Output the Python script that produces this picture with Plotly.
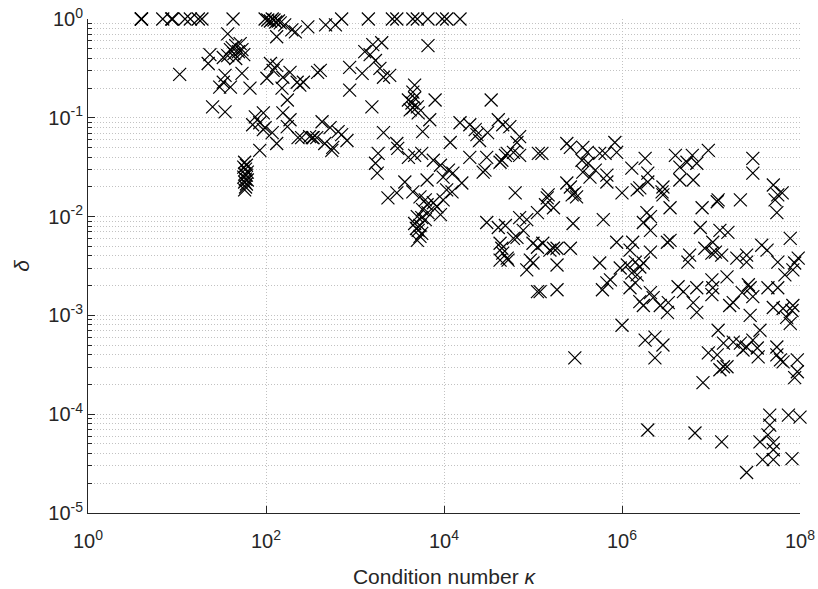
import plotly.graph_objects as go

# Each point is (log10 kappa, log10 delta).

# delta = 1 (saturated) results
saturated = [
    (0.60, 0), (0.60, 0), (0.60, 0), (0.84, 0), (0.94, 0), (0.95, 0), (1.09, 0),
    (1.15, 0), (1.24, 0), (1.28, 0), (1.63, 0),
    (2.85, 0), (3.15, 0), (3.42, 0), (3.47, 0), (3.65, 0), (3.70, 0), (3.82, 0),
    (3.98, 0), (4.03, 0), (4.18, 0),
]

# well-conditioned problems, kappa < ~10^2.8
low_kappa = [
    (1.99, 0), (2.02, -0.01), (2.05, -0.02), (2.07, 0), (2.09, -0.01), (2.11, -0.03),
    (2.14, -0.02), (2.16, -0.04),
    (2.21, -0.06), (2.29, -0.11), (2.33, -0.13), (2.47, -0.08), (2.67, -0.06),
    (2.78, -0.06), (2.12, -0.18), (1.57, -0.15),
    (1.62, -0.29), (1.66, -0.27), (1.71, -0.25), (1.69, -0.33), (1.64, -0.35),
    (1.60, -0.31), (1.73, -0.31), (1.66, -0.40), (1.57, -0.37), (1.75, -0.36),
    (1.37, -0.36), (1.35, -0.45), (1.52, -0.39), (1.03, -0.56),
    (1.54, -0.57), (1.52, -0.64), (1.48, -0.69), (1.60, -0.69), (1.73, -0.55),
    (1.82, -0.70), (1.40, -0.89), (1.54, -0.94), (2.05, -0.45), (2.12, -0.47),
    (2.01, -0.60), (2.08, -0.52), (2.27, -0.54), (2.19, -0.59), (2.35, -0.64),
    (2.38, -0.67), (2.18, -0.70), (2.24, -0.82), (2.58, -0.54),
    (1.88, -0.99), (1.97, -0.95), (1.85, -1.07), (1.93, -1.05), (1.97, -1.12),
    (2.07, -1.15), (2.12, -1.26), (2.19, -0.95), (2.27, -1.02), (2.24, -1.09),
    (2.36, -1.20), (2.52, -1.20), (2.57, -1.20), (1.93, -1.33), (1.99, -1.10),
    (1.76, -1.45), (1.78, -1.48), (1.75, -1.50), (1.77, -1.52), (1.79, -1.55),
    (1.76, -1.57), (1.78, -1.58), (1.75, -1.60), (1.77, -1.62), (1.79, -1.63),
    (1.76, -1.65), (1.78, -1.67), (1.77, -1.70), (1.76, -1.73),
]

# moderately conditioned problems, kappa ~ 10^2.4 .. 10^5
mid_kappa = [
    (3.30, -0.24), (3.20, -0.26), (3.11, -0.33), (3.17, -0.36), (3.23, -0.42),
    (2.94, -0.49), (3.08, -0.55), (3.28, -0.50), (3.39, -0.57), (3.32, -0.59),
    (2.61, -0.52), (2.42, -0.64), (2.94, -0.72), (3.19, -0.89), (3.82, -0.27),
    (3.67, -0.67), (3.65, -0.74), (3.67, -0.80), (3.64, -0.85), (3.62, -0.92),
    (3.70, -0.89), (3.65, -0.90), (3.71, -0.95), (3.90, -0.82), (3.84, -1.02),
    (3.76, -1.14), (3.60, -0.82), (4.53, -0.82),
    (2.63, -1.04), (2.72, -1.10), (2.81, -1.14), (2.53, -1.20), (2.66, -1.26),
    (2.75, -1.30), (2.74, -1.33), (2.91, -1.23), (2.85, -1.17), (2.40, -1.20),
    (2.49, -1.19),
    (3.32, -1.15), (3.47, -1.26), (3.48, -1.31), (3.26, -1.36), (3.23, -1.46),
    (3.25, -1.56), (3.60, -1.40), (3.67, -1.38), (3.75, -1.36), (4.07, -1.25),
    (3.88, -1.43), (3.96, -1.48), (4.05, -1.53), (4.10, -1.56), (3.99, -1.60),
    (4.20, -1.66), (4.09, -1.75), (3.81, -1.63), (3.56, -1.65), (3.37, -1.81),
    (3.47, -1.76), (3.65, -1.75), (3.73, -1.80),
    (3.79, -1.83), (3.81, -1.88), (3.76, -1.93), (3.82, -1.96), (3.75, -2.01),
    (3.79, -2.03), (3.73, -2.09), (3.71, -2.14), (3.75, -2.17), (3.70, -2.24),
    (3.88, -1.86), (3.96, -1.98), (3.92, -1.90), (3.99, -1.83), (4.03, -1.73),
    (3.70, -2.00), (3.67, -2.07), (3.73, -2.20), (3.69, -2.12),
    (4.18, -1.05), (4.29, -1.07), (4.35, -1.12), (4.37, -1.17), (4.40, -1.23),
    (4.49, -1.15), (4.61, -1.02), (4.66, -1.07), (4.74, -1.09), (4.82, -1.25),
    (4.29, -1.40), (4.48, -1.40), (4.44, -1.55), (4.65, -1.43), (4.71, -1.36),
    (4.78, -1.35), (4.85, -1.38), (5.06, -1.36), (4.80, -1.76), (4.69, -1.38),
    (4.63, -1.45), (4.46, -1.53),
    (4.48, -2.06), (4.61, -2.11), (4.69, -2.09), (4.85, -2.01), (4.89, -2.14),
    (4.82, -2.21), (4.63, -2.27), (4.65, -2.32), (4.66, -2.37), (5.00, -2.27),
    (5.05, -1.96), (4.63, -2.44), (4.72, -2.44), (4.93, -2.54), (5.00, -2.47),
    (5.05, -2.76), (5.05, -2.31), (4.78, -2.22), (4.71, -2.42), (4.97, -2.44),
]

# ill-conditioned problems, kappa > ~10^5
high_kappa = [
    (4.85, -1.19), (5.10, -1.36), (5.38, -1.26), (5.42, -1.30), (5.56, -1.30),
    (5.61, -1.35), (5.55, -1.43), (5.62, -1.46), (5.70, -1.53), (5.56, -1.55),
    (5.64, -1.60), (5.75, -1.36), (5.81, -1.36), (5.92, -1.25), (5.94, -1.35),
    (5.83, -1.58), (5.83, -1.65), (6.11, -1.51), (6.26, -1.41), (6.29, -1.56),
    (6.60, -1.38), (6.79, -1.38), (6.97, -1.33), (6.84, -1.46), (6.65, -1.50),
    (6.65, -1.63), (6.80, -1.63), (6.73, -1.45), (7.47, -1.41), (7.47, -1.56),
    (7.70, -1.68), (7.80, -1.76), (5.42, -1.70), (5.47, -1.76), (5.38, -1.66),
    (5.17, -1.78), (6.00, -1.76), (6.17, -1.73), (6.20, -1.71), (6.29, -1.65),
    (6.46, -1.70), (6.45, -1.75), (7.08, -1.83), (7.33, -1.83),
    (5.44, -1.78), (5.49, -1.80), (5.16, -1.81), (5.14, -1.88), (5.23, -1.91),
    (4.93, -2.03), (5.45, -2.07), (5.79, -2.03), (6.46, -1.78), (6.54, -1.91),
    (6.28, -1.96), (6.24, -2.06), (6.32, -2.00), (6.32, -2.14), (6.90, -1.91),
    (7.07, -1.85), (6.88, -2.11), (7.10, -2.14), (7.19, -2.16), (7.02, -2.26),
    (7.74, -1.96), (7.89, -2.22), (7.57, -2.29), (7.63, -2.34), (7.05, -2.36),
    (7.75, -1.78), (7.72, -1.83), (5.94, -2.26), (6.12, -2.26), (6.09, -2.34),
    (6.32, -2.36), (6.51, -2.26), (6.54, -2.24), (5.11, -2.27), (5.19, -2.34),
    (5.23, -2.32), (5.42, -2.32), (5.27, -2.32), (5.27, -2.49), (5.75, -2.47),
    (5.87, -2.64), (5.83, -2.67), (5.78, -2.74), (5.98, -2.52), (6.06, -2.49),
    (6.15, -2.46), (6.20, -2.51), (6.11, -2.57), (6.15, -2.67), (6.09, -2.72),
    (6.76, -2.39), (6.74, -2.46), (7.01, -2.37), (7.12, -2.39), (7.29, -2.42),
    (7.40, -2.39), (7.40, -2.46), (6.93, -2.32), (5.08, -2.76), (5.27, -2.74),
    (7.98, -2.42), (7.94, -2.47), (7.83, -2.59), (7.92, -2.54), (7.75, -2.46),
    (6.24, -2.47), (6.17, -2.59),
    (7.01, -2.64), (7.18, -2.61), (7.42, -2.69), (7.64, -2.72), (7.75, -2.72),
    (6.24, -2.90), (6.35, -2.82), (6.43, -2.90), (6.52, -2.87), (6.51, -2.97),
    (6.63, -2.71), (6.69, -2.76), (6.84, -2.72), (6.80, -2.87), (6.84, -2.97),
    (7.02, -2.72), (7.01, -2.79), (7.21, -2.90), (7.35, -2.77), (7.44, -2.72),
    (7.47, -2.81), (7.44, -3.00), (7.70, -2.92), (7.81, -2.93), (7.91, -2.95),
    (7.85, -3.02), (7.89, -3.08), (6.00, -3.10), (6.20, -2.86), (6.32, -2.77),
    (7.25, -2.87), (7.92, -2.90),
    (6.26, -3.25), (6.37, -3.22), (6.46, -3.30), (6.37, -3.43), (5.47, -3.43),
    (7.08, -3.15), (7.14, -3.28), (7.25, -3.27), (7.33, -3.28), (7.40, -3.32),
    (7.52, -3.33), (7.55, -3.15), (7.47, -3.25), (6.97, -3.38), (7.07, -3.40),
    (7.18, -3.52), (7.14, -3.52), (7.74, -3.32), (7.74, -3.40), (7.81, -3.47),
    (7.97, -3.45), (7.97, -3.57), (7.53, -3.42), (7.36, -3.35), (7.94, -3.63),
    (6.91, -3.68), (7.10, -3.55), (7.78, -3.45),
    (6.29, -4.16), (6.82, -4.19), (7.12, -4.28), (7.66, -4.01), (7.87, -4.01),
    (8.00, -4.03), (7.66, -4.11), (7.55, -4.28), (7.64, -4.21), (7.70, -4.29),
    (7.70, -4.36), (7.58, -4.46), (7.70, -4.46), (7.91, -4.45), (7.40, -4.59),
]

x_ticks = [0, 2, 4, 6, 8]
y_ticks = [-5, -4, -3, -2, -1, 0]

points = saturated + low_kappa + mid_kappa + high_kappa
kappa = [10 ** p[0] for p in points]
delta = [10 ** p[1] for p in points]

ink = "#262626"
grid = "#c2c2c2"
grid_dash = "1px,2px"
font = "Liberation Sans, Arial, Helvetica, sans-serif"

fig = go.Figure(
    go.Scatter(
        x=kappa,
        y=delta,
        mode="markers",
        cliponaxis=False,
        marker=dict(symbol="x-thin", size=13, color="black",
                    line=dict(color="black", width=1.2)),
        showlegend=False,
        hoverinfo="skip",
    )
)

y_minor = [k * 10.0 ** e for e in range(-5, 0) for k in range(2, 10)]

fig.update_layout(
    width=818,
    height=589,
    margin=dict(l=88, r=18, t=19, b=76),
    paper_bgcolor="white",
    plot_bgcolor="white",
    font=dict(family=font, color=ink),
    xaxis=dict(
        type="log",
        range=[0, 8],
        tickmode="array",
        tickvals=[10.0 ** t for t in x_ticks],
        ticktext=[f"10<sup>{t}</sup>" for t in x_ticks],
        ticks="inside",
        ticklen=7,
        tickcolor=ink,
        tickfont=dict(size=20, color=ink),
        ticklabelstandoff=10,
        showline=True,
        linecolor=ink,
        linewidth=1,
        showgrid=True,
        gridcolor=grid,
        griddash=grid_dash,
        gridwidth=1,
        zeroline=False,
        automargin=False,
        title=dict(text="Condition number <i>κ</i>", font=dict(size=21, color=ink),
                   standoff=18),
    ),
    yaxis=dict(
        type="log",
        range=[-5, 0],
        tickmode="array",
        tickvals=[10.0 ** t for t in y_ticks],
        ticktext=[f"10<sup>{t}</sup>" for t in y_ticks],
        ticks="inside",
        ticklen=7,
        tickcolor=ink,
        tickfont=dict(size=20, color=ink),
        showline=True,
        linecolor=ink,
        linewidth=1,
        showgrid=True,
        gridcolor=grid,
        griddash=grid_dash,
        gridwidth=1,
        zeroline=False,
        automargin=False,
        minor=dict(
            tickmode="array",
            tickvals=y_minor,
            ticks="inside",
            ticklen=4,
            tickcolor=ink,
            showgrid=True,
            gridcolor=grid,
            griddash=grid_dash,
            gridwidth=1,
        ),
        title=dict(text="<i>δ</i>", font=dict(size=21, color=ink), standoff=12),
    ),
)

fig.write_html("out.html")
